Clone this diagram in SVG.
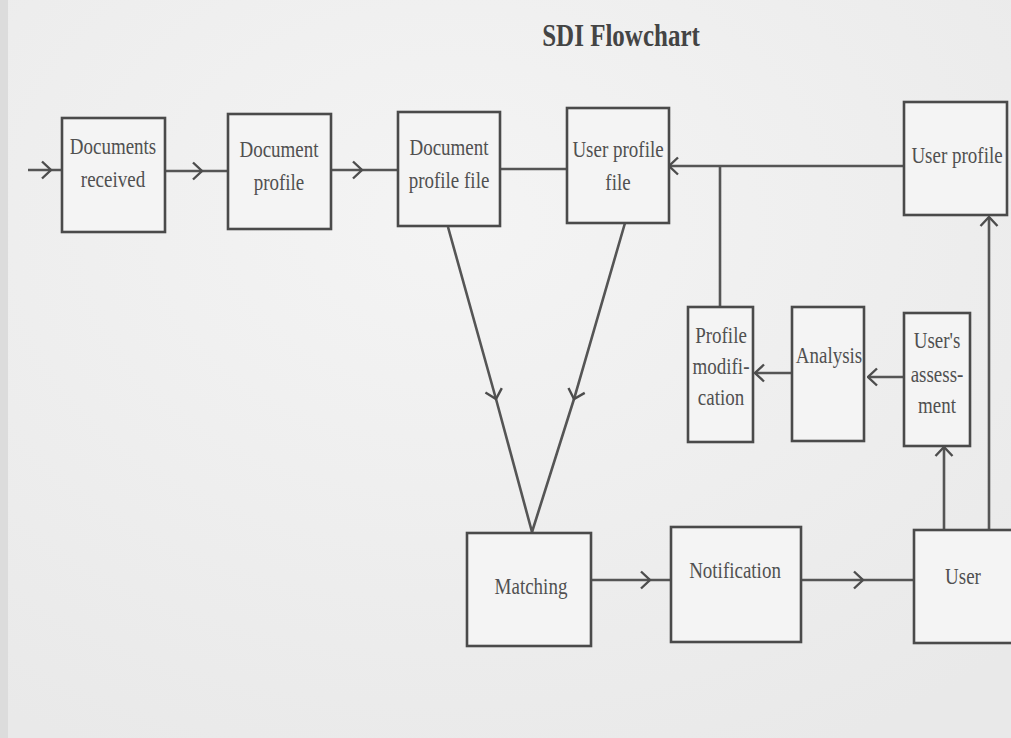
<svg xmlns="http://www.w3.org/2000/svg" width="1011" height="738" viewBox="0 0 1011 738">
<defs>
<radialGradient id="bg" cx="0.45" cy="0.3" r="0.8">
<stop offset="0" stop-color="#f4f4f4"/>
<stop offset="1" stop-color="#e9e9e9"/>
</radialGradient>
<marker id="chev" viewBox="0 0 12 20" refX="10.5" refY="10" markerWidth="12" markerHeight="20" markerUnits="userSpaceOnUse" orient="auto">
<path d="M1.5,1.5 L10.5,10 L1.5,18.5" fill="none" stroke="#4d4d4d" stroke-width="2.4"/>
</marker>
<style>
.box{fill:#f4f4f4;stroke:#4a4a4a;stroke-width:2.6}
.lbl{font-family:"Liberation Serif","Times New Roman",serif;font-size:19px;fill:#505050;text-anchor:middle}
.ttl{font-family:"Liberation Serif","Times New Roman",serif;font-size:25px;font-weight:bold;fill:#444;text-anchor:middle}
.c{fill:none;stroke:#555;stroke-width:2.6}
.m{marker-mid:url(#chev)}
.e{marker-end:url(#chev)}
</style>
</defs>
<rect width="1011" height="738" fill="url(#bg)"/>
<rect x="0" y="0" width="8" height="738" fill="#dcdcdc"/>
<text class="ttl" transform="translate(621,46) scale(1,1.3)">SDI Flowchart</text>

<g id="connectors">
<path class="c m" d="M28,170 L51,170 L62,170"/>
<path class="c m" d="M165,171 L202,171 L228,171"/>
<path class="c m" d="M331,170 L362,170 L398,170"/>
<path class="c" d="M500,169 L567,169"/>
<path class="c e" d="M904,166 L669,166"/>
<path class="c" d="M720,166 L720,307"/>
<path class="c e" d="M792,373 L755,373"/>
<path class="c e" d="M904,377 L868,377"/>
<path class="c e" d="M944,530 L944,447"/>
<path class="c e" d="M989,530 L989,217"/>
<path class="c m" d="M448,227 L496,399 L532,532"/>
<path class="c m" d="M625,223 L574,399 L532,532"/>
<path class="c m" d="M591,580 L650,580 L671,580"/>
<path class="c m" d="M801,580 L863,580 L914,580"/>
</g>

<g id="documents-received">
<rect class="box" x="62" y="118" width="103" height="114"/>
<text class="lbl" transform="translate(113,154) scale(1,1.2)">Documents</text>
<text class="lbl" transform="translate(113,187) scale(1,1.2)">received</text>
</g>
<g id="document-profile">
<rect class="box" x="228" y="114" width="103" height="115"/>
<text class="lbl" transform="translate(279,157) scale(1,1.2)">Document</text>
<text class="lbl" transform="translate(279,190) scale(1,1.2)">profile</text>
</g>
<g id="document-profile-file">
<rect class="box" x="398" y="112" width="102" height="114"/>
<text class="lbl" transform="translate(449,155) scale(1,1.2)">Document</text>
<text class="lbl" transform="translate(449,188) scale(1,1.2)">profile file</text>
</g>
<g id="user-profile-file">
<rect class="box" x="567" y="108" width="102" height="115"/>
<text class="lbl" transform="translate(618,157) scale(1,1.2)">User profile</text>
<text class="lbl" transform="translate(618,190) scale(1,1.2)">file</text>
</g>
<g id="user-profile">
<rect class="box" x="904" y="102" width="103" height="113"/>
<text class="lbl" transform="translate(957,163) scale(1,1.2)">User profile</text>
</g>
<g id="profile-modification">
<rect class="box" x="688" y="307" width="65" height="135"/>
<text class="lbl" transform="translate(721,343) scale(1,1.2)">Profile</text>
<text class="lbl" transform="translate(721,374) scale(1,1.2)">modifi-</text>
<text class="lbl" transform="translate(721,405) scale(1,1.2)">cation</text>
</g>
<g id="analysis">
<rect class="box" x="792" y="307" width="72" height="134"/>
<text class="lbl" transform="translate(829,363) scale(1,1.2)">Analysis</text>
</g>
<g id="users-assessment">
<rect class="box" x="904" y="313" width="66" height="133"/>
<text class="lbl" transform="translate(937,348) scale(1,1.2)">User's</text>
<text class="lbl" transform="translate(937,382) scale(1,1.2)">assess-</text>
<text class="lbl" transform="translate(937,413) scale(1,1.2)">ment</text>
</g>
<g id="matching">
<rect class="box" x="467" y="533" width="124" height="113"/>
<text class="lbl" transform="translate(531,594) scale(1,1.2)">Matching</text>
</g>
<g id="notification">
<rect class="box" x="671" y="527" width="130" height="115"/>
<text class="lbl" transform="translate(735,578) scale(1,1.2)">Notification</text>
</g>
<g id="user">
<rect class="box" x="914" y="530" width="110" height="113"/>
<text class="lbl" transform="translate(963,584) scale(1,1.2)">User</text>
</g>
</svg>
